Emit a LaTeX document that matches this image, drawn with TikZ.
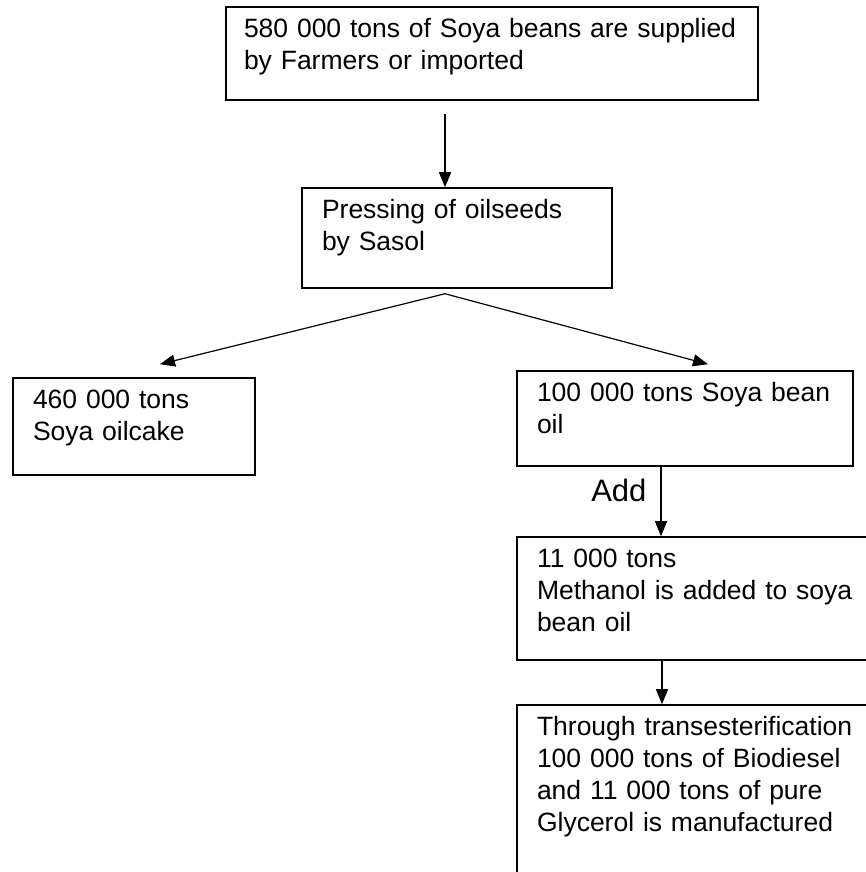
\documentclass[tikz,border=0pt]{standalone}
\usepackage{fontspec}
\setmainfont{Liberation Sans}
\usetikzlibrary{arrows.meta}

\begin{document}
\begin{tikzpicture}[
    x=0.5pt, y=0.5pt,
    box/.style={rectangle, draw, line width=0.75pt, align=left, inner xsep=10pt, inner ysep=6pt,
        text height=9.5pt, font=\fontsize{13.25}{16}\selectfont},
    arrow/.style={->, >={Triangle[length=7.5pt, width=6pt]}, line width=0.6pt}
]
    \useasboundingbox (0,0) rectangle (866,872);
    \clip (0,0) rectangle (866,872);

    % Supply of beans
    \node[box, inner xsep=9pt, text width=248pt, text depth=25pt] (soya) at (492,818.5)
        {580 000 tons of Soya beans are supplied\\by Farmers or imported};

    % Pressing
    \node[box, text width=135pt, text depth=28.5pt, node distance=92.25pt, below of=soya, xshift=-17.5pt] (press)
        {Pressing of oilseeds\\by Sasol};
    \coordinate (fork) at ([shift={(-12,-5)}]press.south);

    % Products of pressing
    \node[box, text width=101pt, text depth=27pt, node distance=94.25pt, below of=press, xshift=-161.5pt] (oilcake)
        {460 000 tons\\Soya oilcake};
    \node[box, text width=148pt, text depth=26pt, node distance=90.25pt, below of=press, xshift=114pt] (beanoil)
        {100 000 tons Soya bean\\oil};

    % Biodiesel route
    \node[box, text width=174pt, text depth=40pt, node distance=90pt, below of=beanoil, xshift=13pt] (methanol)
        {11 000 tons\\Methanol is added to soya\\bean oil};
    \node[box, text width=174pt, text depth=88.5pt, node distance=108.25pt, below of=methanol] (glycerol)
        {Through transesterification\\100 000 tons of Biodiesel\\and 11 000 tons of pure\\Glycerol is manufactured};

    % Arrows
    \draw[arrow] ([yshift=-6.5pt]soya.south -| fork) -- (press.north -| fork);
    \draw[arrow] (fork) -- ([shift={(26,13)}]oilcake.north);
    \draw[arrow] (fork) -- ([shift={(23,6)}]beanoil.north);
    \draw[arrow] ([xshift=-12pt]beanoil.south) -- ([xshift=-12pt]beanoil.south |- methanol.north)
        node[pos=0.34, left, inner sep=0pt, xshift=-7pt, font=\fontsize{15.5}{18}\selectfont] (add) {Add};
    \draw[arrow] ([xshift=-24.5pt]methanol.south) -- ([xshift=-24.5pt]methanol.south |- glycerol.north);

\end{tikzpicture}
\end{document}
